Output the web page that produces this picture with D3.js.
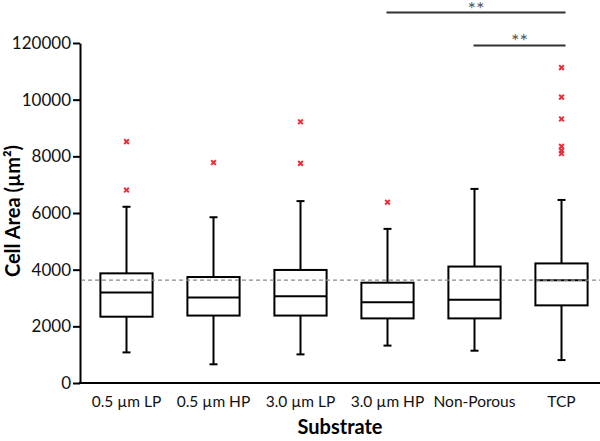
<!DOCTYPE html>
<html>
<head>
<meta charset="utf-8">
<script src="https://cdn.jsdelivr.net/npm/d3@7"></script>
<style>
  body { margin: 0; background: #fff; }
  svg text { font-family: Lato, "Open Sans", sans-serif; }
</style>
</head>
<body>
<svg id="chart" width="600" height="441"></svg>
<script>
// substrates on the x axis
var categories = ['0.5 \u00b5m LP', '0.5 \u00b5m HP', '3.0 \u00b5m LP', '3.0 \u00b5m HP', 'Non-Porous', 'TCP'];
// box statistics
var whiskerLow = [1080, 660, 1010, 1320, 1140, 810];
var q1 = [2340, 2380, 2380, 2280, 2280, 2740];
var median = [3190, 3020, 3060, 2850, 2940, 3630];
var q3 = [3870, 3740, 3990, 3540, 4110, 4220];
var whiskerHigh = [6220, 5850, 6420, 5440, 6850, 6460];
var outliers = [
    [6810, 8520],
    [7780],
    [7750, 9220],
    [6380],
    [],
    [8100, 8200, 8350, 9320, 10090, 11130]
];
var refLine = 3630;
var yTicks = [0, 2000, 4000, 6000, 8000, 10000, 12000];
var yTickLabels = ['0', '2000', '4000', '6000', '8000', '10000', '120000'];
// significance brackets [from, to, label]
var brackets = [
    ['3.0 \u00b5m HP', 'TCP', '**'],
    ['Non-Porous', 'TCP', '**']
];

var svg = d3.select('#chart');
var plotLeft = 80, plotRight = 600, plotTop = 43, plotBottom = 383;

var x = d3.scaleBand()
    .domain(categories)
    .range([83, 605])
    .paddingInner(0.4)
    .paddingOuter(0.2);

var y = d3.scaleLinear()
    .domain([0, 12000])
    .range([plotBottom, plotTop]);

var cx = function (c) { return x(c) + x.bandwidth() / 2; };

// y axis
var yAxis = svg.append('g')
    .attr('transform', 'translate(' + plotLeft + ',0)')
    .call(d3.axisLeft(y).tickValues(yTicks)
        .tickFormat(function (d, i) { return yTickLabels[i]; })
        .tickSize(7).tickSizeOuter(0).tickPadding(2));
yAxis.select('.domain').attr('stroke-width', 2);
yAxis.selectAll('.tick line').attr('stroke-width', 2);
yAxis.selectAll('text').attr('font-size', 17).attr('fill', '#111');

// x axis line
svg.append('line')
    .attr('x1', plotLeft - 1).attr('x2', plotRight)
    .attr('y1', plotBottom).attr('y2', plotBottom)
    .attr('stroke', '#000').attr('stroke-width', 2);

svg.append('g').selectAll('text')
    .data(categories)
    .join('text')
    .attr('x', function (d) { return cx(d); })
    .attr('y', 407)
    .attr('text-anchor', 'middle')
    .attr('font-size', 15.5)
    .attr('fill', '#111')
    .text(function (d) { return d; });

// axis titles
svg.append('text')
    .attr('x', 340).attr('y', 434)
    .attr('text-anchor', 'middle')
    .attr('font-size', 20).attr('font-weight', 'bold')
    .text('Substrate');

svg.append('text')
    .attr('transform', 'translate(20,' + 211 + ') rotate(-90)')
    .attr('text-anchor', 'middle')
    .attr('font-size', 20).attr('font-weight', 'bold')
    .text('Cell Area (\u00b5m\u00b2)');

// boxes
var g = svg.append('g').attr('stroke', '#000').attr('stroke-width', 2).attr('fill', 'none');
categories.forEach(function (c, i) {
    var xc = cx(c), w = x.bandwidth(), cap = 4;
    g.append('line').attr('x1', xc).attr('x2', xc).attr('y1', y(q3[i])).attr('y2', y(whiskerHigh[i]));
    g.append('line').attr('x1', xc).attr('x2', xc).attr('y1', y(q1[i])).attr('y2', y(whiskerLow[i]));
    g.append('line').attr('x1', xc - cap).attr('x2', xc + cap).attr('y1', y(whiskerHigh[i])).attr('y2', y(whiskerHigh[i]));
    g.append('line').attr('x1', xc - cap).attr('x2', xc + cap).attr('y1', y(whiskerLow[i])).attr('y2', y(whiskerLow[i]));
    g.append('rect').attr('x', x(c)).attr('width', w)
        .attr('y', y(q3[i])).attr('height', y(q1[i]) - y(q3[i]))
        .attr('fill', '#fff');
    g.append('line').attr('x1', x(c)).attr('x2', x(c) + w)
        .attr('y1', y(median[i])).attr('y2', y(median[i]));
});

// outliers
var sym = d3.symbol(d3.symbolX, 16);
categories.forEach(function (c, i) {
    svg.append('g').selectAll('path')
        .data(outliers[i])
        .join('path')
        .attr('transform', function (d) { return 'translate(' + cx(c) + ',' + y(d) + ')'; })
        .attr('d', sym)
        .attr('fill', 'none')
        .attr('stroke', '#e8303a')
        .attr('stroke-width', 2);
});

// dashed reference line
svg.append('line')
    .attr('x1', plotLeft + 1).attr('x2', plotRight)
    .attr('y1', y(refLine)).attr('y2', y(refLine))
    .attr('stroke', '#8a8a8a').attr('stroke-width', 1.3)
    .attr('stroke-dasharray', '4,3');

// significance brackets
var by = [12.5, 45.5];
var starBase = [16, 48];
brackets.forEach(function (b, i) {
    var x1 = cx(b[0]) - 1, x2 = cx(b[1]) + 4;
    svg.append('line')
        .attr('x1', x1).attr('x2', x2)
        .attr('y1', by[i]).attr('y2', by[i])
        .attr('stroke', '#333').attr('stroke-width', 1.8);
    svg.append('text')
        .attr('x', (x1 + x2) / 2).attr('y', starBase[i])
        .attr('text-anchor', 'middle')
        .attr('font-size', 20).attr('fill', '#555')
        .text(b[2]);
});
</script>
</body>
</html>
